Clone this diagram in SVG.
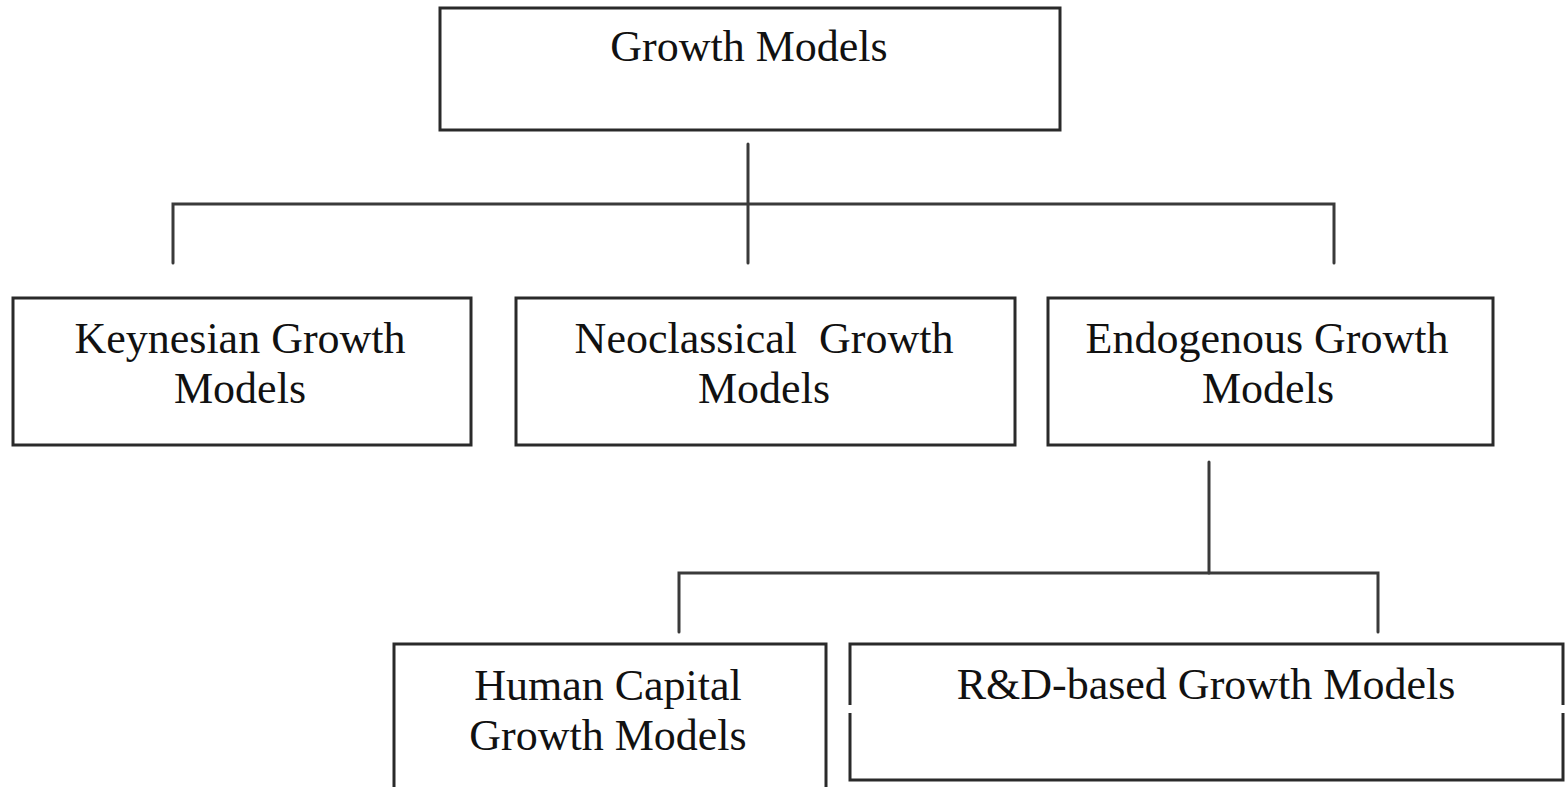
<svg xmlns="http://www.w3.org/2000/svg" width="1567" height="787" viewBox="0 0 1567 787">
<style>
.box{fill:#fff;stroke:#2a2a2a;stroke-width:3}
.edge{fill:none;stroke:#3a3a3a;stroke-width:3;stroke-linecap:round}
.lbl{font-family:"Liberation Serif","Times New Roman",serif;font-size:44px;fill:#111;text-anchor:middle}
</style>
<rect width="1567" height="787" fill="#fff"/>
<g id="connectors">
<path class="edge" d="M748 144 V263"/>
<path class="edge" d="M173 263 V204 H1334 V263"/>
<path class="edge" d="M1209 462 V573"/>
<path class="edge" d="M679 632 V573 H1378 V632"/>
</g>
<g id="growth-models">
<rect class="box" x="440" y="8" width="620" height="122"/>
<text class="lbl" x="749" y="61">Growth Models</text>
</g>
<g id="keynesian">
<rect class="box" x="13" y="298" width="458" height="147"/>
<text class="lbl" x="240" y="353">Keynesian Growth</text>
<text class="lbl" x="240" y="403">Models</text>
</g>
<g id="neoclassical">
<rect class="box" x="516" y="298" width="499" height="147"/>
<text class="lbl" x="764" y="353" xml:space="preserve">Neoclassical  Growth</text>
<text class="lbl" x="764" y="403">Models</text>
</g>
<g id="endogenous">
<rect class="box" x="1048" y="298" width="445" height="147"/>
<text class="lbl" x="1267" y="353">Endogenous Growth</text>
<text class="lbl" x="1268" y="403">Models</text>
</g>
<g id="human-capital">
<rect class="box" x="394" y="644" width="432" height="160"/>
<text class="lbl" x="608" y="700">Human Capital</text>
<text class="lbl" x="608" y="750">Growth Models</text>
</g>
<g id="rd-based">
<path class="box" d="M850 705 V644 H1563 V705 M1563 713 V780 H850 V713"/>
<text class="lbl" x="1206" y="699">R&amp;D-based Growth Models</text>
</g>
</svg>
